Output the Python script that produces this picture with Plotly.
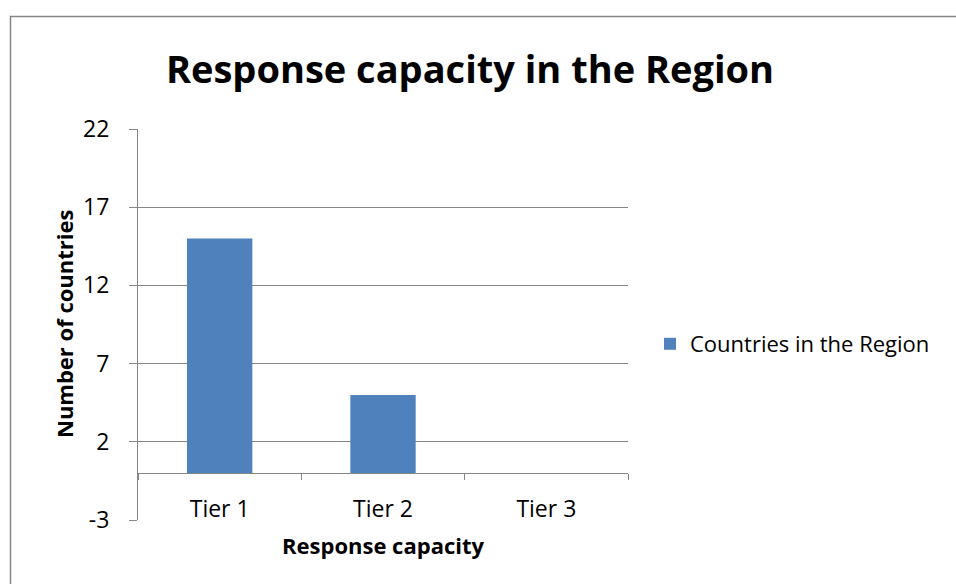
import plotly.graph_objects as go

categories = ["Tier 1", "Tier 2", "Tier 3"]
values = [15, 5, 0]
series_name = "Countries in the Region"
y_ticks = [-3, 2, 7, 12, 17, 22]

W, H = 956, 584
L, R, T, B = 138, 628, 129, 520
pw, ph = R - L, B - T

def px(x):
    return (x - L) / pw

def py(y):
    return (B - y) / ph

FONT = "Open Sans"
GRAY = "#868686"

fig = go.Figure()
fig.add_trace(go.Bar(
    x=categories, y=values, name=series_name,
    marker=dict(color="#4F81BD", line=dict(width=0)),
    width=0.4, showlegend=True,
))

fig.update_layout(
    width=W, height=H,
    margin=dict(l=L, r=W - R, t=T, b=H - B),
    paper_bgcolor="white", plot_bgcolor="white",
    font=dict(family=FONT, size=22, color="black"),
    title=dict(text="<b>Response capacity in the Region</b>",
               font=dict(family=FONT, size=38, color="black"),
               x=470 / W, xanchor="center",
               y=1 - 70 / H, yanchor="middle"),
    showlegend=True,
    legend=dict(x=px(650), y=py(344), xanchor="left", yanchor="middle",
                font=dict(family=FONT, size=22, color="black"),
                itemwidth=30, bgcolor="rgba(0,0,0,0)"),
    bargap=0.6,
    xaxis=dict(
        type="category", anchor="free", position=3 / 25,
        showline=True, linecolor=GRAY, linewidth=1,
        ticks="outside", tickson="boundaries", ticklen=6, tickcolor=GRAY,
        showgrid=False, ticklabelstandoff=15,
        tickfont=dict(family=FONT, size=23, color="black"),
        range=[-0.5, 2.5],
    ),
    yaxis=dict(
        range=[-3, 22], tickvals=y_ticks, ticktext=[str(v) for v in y_ticks],
        showgrid=True, gridcolor=GRAY, gridwidth=1,
        zeroline=False,
        showline=True, linecolor=GRAY, linewidth=1,
        ticks="outside", ticklen=8, tickcolor=GRAY,
        ticklabelstandoff=15,
        tickfont=dict(family=FONT, size=23, color="black"),
    ),
    annotations=[
        dict(text="<b>Response capacity</b>", xref="paper", yref="paper",
             x=0.5, y=py(545), xanchor="center", yanchor="middle",
             showarrow=False, font=dict(family=FONT, size=22, color="black")),
        dict(text="<b>Number of countries</b>", xref="paper", yref="paper",
             x=px(64), y=py(324), xanchor="center", yanchor="middle",
             textangle=-90,
             showarrow=False, font=dict(family=FONT, size=22, color="black")),
    ],
    shapes=[
        dict(type="rect", xref="paper", yref="paper",
             x0=px(10.5), x1=px(1000), y0=py(1000), y1=py(16.5),
             line=dict(color=GRAY, width=1.5), layer="below"),
    ],
)

fig.write_html("out.html")
